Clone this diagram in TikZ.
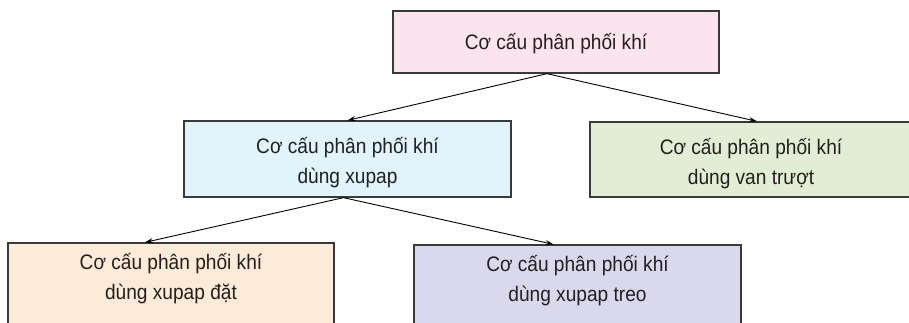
\documentclass[tikz,border=0pt]{standalone}
\usepackage{fontspec}
\setmainfont{Liberation Sans}[FakeStretch=0.91]
\usetikzlibrary{arrows.meta}
\definecolor{txt}{HTML}{231F20}
\definecolor{bord}{HTML}{3A3A3A}
\definecolor{pinkf}{HTML}{FCE4EE}
\definecolor{bluef}{HTML}{E1F3FB}
\definecolor{greenf}{HTML}{E2EDD6}
\definecolor{orangef}{HTML}{FDEBD9}
\definecolor{purplef}{HTML}{DAD8EC}
\tikzset{
  box/.style={draw=bord, line width=1.3pt, minimum width=#1, inner sep=0pt},
  lbl/.style={align=center, text=txt, inner sep=0pt, font=\fontsize{21}{30}\selectfont},
  conn/.style={draw=black, line width=0.9pt, -{Stealth[length=8pt,width=5pt]}}
}
\begin{document}
\begin{tikzpicture}[x=1pt,y=-1pt]
\useasboundingbox[clip] (0,0) rectangle (909,322);
\node[box=326pt, minimum height=62pt, fill=pinkf] (top) at (556,42) {};
\node[box=327pt, minimum height=76pt, fill=bluef] (xup) at (347.5,159) {};
\node[box=322pt, minimum height=75pt, fill=greenf] (van) at (751,159.5) {};
\node[box=326pt, minimum height=90pt, fill=orangef] (dat) at (171,288) {};
\node[box=327pt, minimum height=90pt, fill=purplef] (treo) at (577.5,290) {};
\node[lbl] (topt) at ([yshift=-2pt]top.center) {Cơ cấu phân phối khí};
\node[lbl] (xupt) at ([yshift=-4pt]xup.center) {Cơ cấu phân phối khí\\dùng xupap};
\node[lbl] (vant) at ([yshift=-4pt]van.center) {Cơ cấu phân phối khí\\dùng van trượt};
\node[lbl] (datt) at ([yshift=9.5pt]dat.center) {Cơ cấu phân phối khí\\dùng xupap đặt};
\node[lbl] (treot) at ([yshift=9.5pt]treo.center) {Cơ cấu phân phối khí\\dùng xupap treo};
\draw[conn] ([xshift=-9pt]top.south) -- (xup.north);
\draw[conn] ([xshift=-9pt]top.south) -- ([xshift=6pt]van.north);
\draw[conn] ([xshift=-4pt]xup.south) -- ([xshift=-26pt]dat.north);
\draw[conn] ([xshift=-4pt]xup.south) -- ([xshift=-24pt]treo.north);
\end{tikzpicture}
\end{document}
